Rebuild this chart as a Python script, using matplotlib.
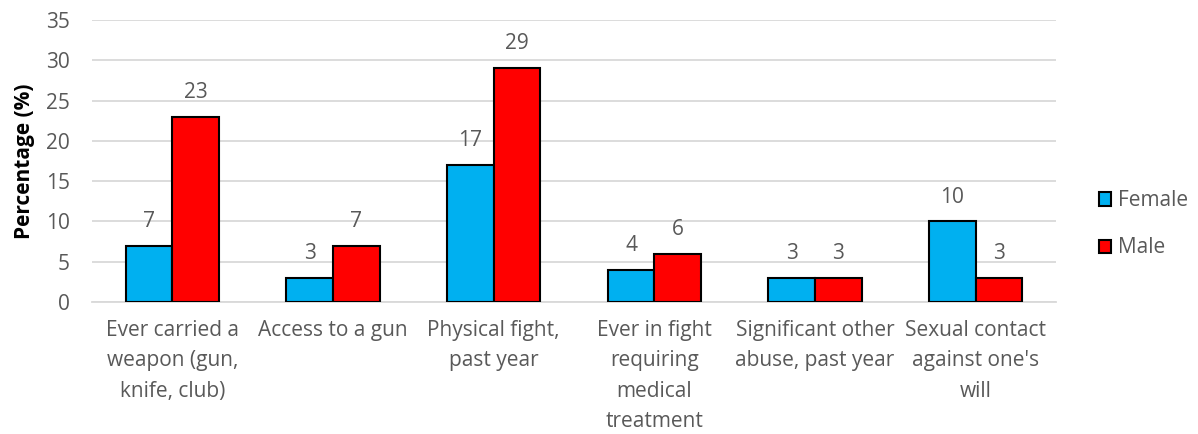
import matplotlib
matplotlib.use('Agg')
import matplotlib.pyplot as plt
import numpy as np

plt.rcParams['font.family'] = ['Open Sans', 'DejaVu Sans']

categories = ['Ever carried a\nweapon (gun,\nknife, club)', 'Access to a gun',
              'Physical fight,\npast year', 'Ever in fight\nrequiring\nmedical\ntreatment',
              'Significant other\nabuse, past year', "Sexual contact\nagainst one's\nwill"]
female = [7, 3, 17, 4, 3, 10]
male = [23, 7, 29, 6, 3, 3]

grey = '#595959'
fig = plt.figure(figsize=(11.98, 4.34), dpi=100)
ax = fig.add_axes([92/1198, 1 - 302/434, 964/1198, 282/434])

x = np.arange(len(categories))
w = 0.29
b1 = ax.bar(x - w/2, female, w, color='#00B0F0', edgecolor='black', linewidth=1.5, label='Female', zorder=3)
b2 = ax.bar(x + w/2, male, w, color='#FF0000', edgecolor='black', linewidth=1.5, label='Male', zorder=3)

# value labels above each bar
for bars in (b1, b2):
    for b in bars:
        ax.annotate(str(int(b.get_height())), (b.get_x() + b.get_width()/2, b.get_height()),
                    xytext=(0, 10), textcoords='offset points',
                    ha='center', va='bottom', fontsize=15, color=grey)

ax.set_xlim(-0.5, 5.5)
ax.set_ylim(0, 35)
ax.set_yticks(range(0, 36, 5))
ax.yaxis.grid(True, color='#D9D9D9', linewidth=1.3, zorder=0)
for s in ['top', 'right', 'left']:
    ax.spines[s].set_visible(False)
ax.spines['bottom'].set_color('#D9D9D9')
ax.spines['bottom'].set_linewidth(1.3)
ax.tick_params(axis='y', length=0, labelsize=15, colors=grey, pad=16)
ax.tick_params(axis='x', length=0, labelsize=15, colors=grey, pad=13)
ax.set_xticks(x)
ax.set_xticklabels(categories, fontsize=15, color=grey, linespacing=1.58, va='top')
ax.set_ylabel('Percentage (%)', fontsize=15, fontweight='bold', labelpad=8)

ax.legend(loc='center left', bbox_to_anchor=(1.025, 0.275), frameon=False, fontsize=15,
          handlelength=0.6, handleheight=0.6, handletextpad=0.3, labelspacing=1.25,
          labelcolor=grey)

fig.savefig('out.png', dpi=100)
